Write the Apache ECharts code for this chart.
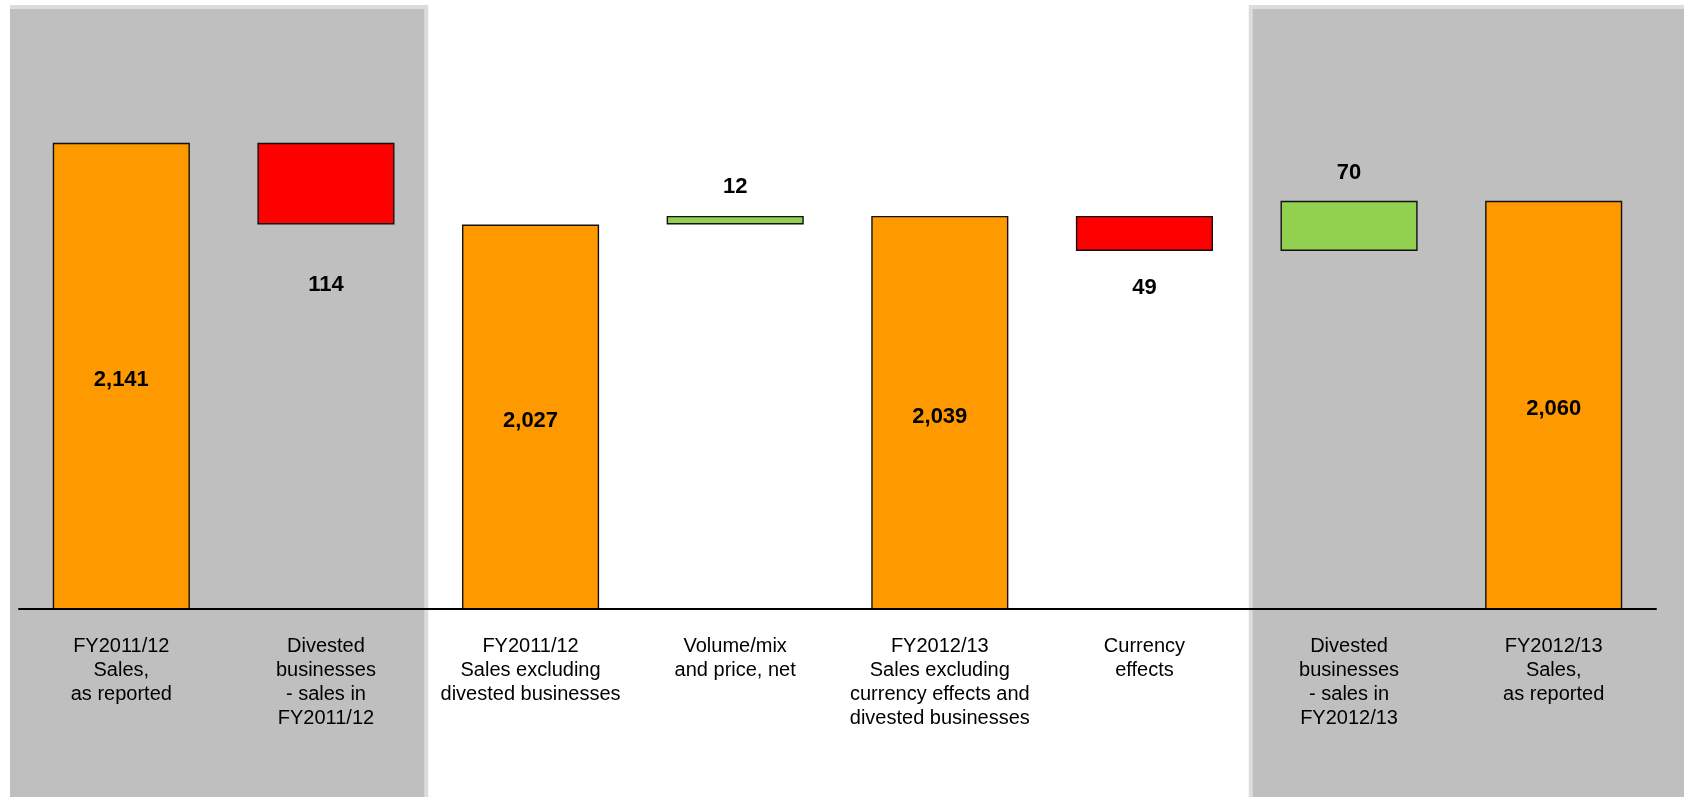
<!DOCTYPE html>
<html><head><meta charset="utf-8">
<script src="https://cdn.jsdelivr.net/npm/echarts@6/dist/echarts.min.js"></script>
<style>html,body{margin:0;padding:0;background:#fff}#c{width:1684px;height:797px}</style>
</head><body><div id="c"></div>
<script>
// ---- data ----
const categories = [
  'FY2011/12\nSales,\nas reported',
  'Divested\nbusinesses\n- sales in\nFY2011/12',
  'FY2011/12\nSales excluding\ndivested businesses',
  'Volume/mix\nand price, net',
  'FY2012/13\nSales excluding\ncurrency effects and\ndivested businesses',
  'Currency\neffects',
  'Divested\nbusinesses\n- sales in\nFY2012/13',
  'FY2012/13\nSales,\nas reported'
];
const stepValues = [2141, -114, 2027, 12, 2039, -49, 70, 2060];
const stepKinds = ['total', 'change', 'total', 'change', 'total', 'change', 'change', 'total'];
const axisMin = 1490;
const axisMax = 2300;

// ---- build waterfall from data ----
const FONT = "'Liberation Sans', Arial, sans-serif";
const COL_TOTAL = '#FF9900', COL_UP = '#92D050', COL_DOWN = '#FF0000';
const labelGap = {1: 49, 3: 18, 5: 26, 6: 17}; // layout tweak per change label
const baseData = [], barData = [];
let running = 0;
stepValues.forEach((v, i) => {
  const fmt = Math.abs(v).toLocaleString('en-US');
  if (stepKinds[i] === 'total') {
    running = v;
    baseData.push('-');
    barData.push({
      value: v,
      itemStyle: {color: COL_TOTAL},
      label: {show: true, position: 'inside', offset: [0, 4], formatter: fmt}
    });
  } else {
    const lo = v >= 0 ? running : running + v;
    running += v;
    baseData.push(lo);
    barData.push({
      value: Math.abs(v),
      itemStyle: {color: v >= 0 ? COL_UP : COL_DOWN},
      label: {show: true, position: v >= 0 ? 'top' : 'bottom', distance: labelGap[i] || 20, formatter: fmt}
    });
  }
});

const chart = echarts.init(document.getElementById('c'), null, {renderer: 'canvas'});
const option = {
  backgroundColor: '#fff',
  animation: false,
  grid: {left: 19, right: 28, top: 29, bottom: 188, containLabel: false},
  xAxis: {
    type: 'category',
    data: categories,
    axisLine: {show: true, onZero: false, lineStyle: {color: '#000', width: 2}},
    axisTick: {show: false},
    axisLabel: {interval: 0, margin: 25, color: '#000', fontSize: 20, lineHeight: 24, fontFamily: FONT, align: 'center'},
    z: 5
  },
  yAxis: {
    type: 'value', min: axisMin, max: axisMax, show: false,
    splitLine: {show: false}
  },
  series: [
    {
      type: 'bar', stack: 'wf', data: baseData, barCategoryGap: '33%',
      itemStyle: {color: 'rgba(0,0,0,0)', borderWidth: 0},
      silent: true, z: 2
    },
    {
      type: 'bar', stack: 'wf', data: barData, barCategoryGap: '33%',
      itemStyle: {borderColor: '#111', borderWidth: 1.4},
      label: {color: '#000', fontSize: 22, fontWeight: 'bold', fontFamily: FONT},
      z: 3
    }
  ]
};
chart.setOption(option);

// gray background panels aligned with category bands
const c0 = chart.convertToPixel({xAxisIndex: 0}, 0);
const c1 = chart.convertToPixel({xAxisIndex: 0}, 1);
const band = c1 - c0;
const edge = i => c0 + (i - 0.5) * band;
const W = 1684, H = 797;
const p1L = edge(0) - 9, p1R = edge(2);
const p2L = edge(6) + 2, p2R = W;
chart.setOption({
  graphic: [
    {type: 'rect', silent: true, z: -10, shape: {x: p1L, y: 5, width: p1R - p1L, height: H - 5}, style: {fill: '#DCDCDC'}},
    {type: 'rect', silent: true, z: -9, shape: {x: p1L, y: 9, width: p1R - p1L - 4, height: H - 9}, style: {fill: '#BFBFBF'}},
    {type: 'rect', silent: true, z: -10, shape: {x: p2L, y: 5, width: p2R - p2L, height: H - 5}, style: {fill: '#DCDCDC'}},
    {type: 'rect', silent: true, z: -9, shape: {x: p2L + 4, y: 9, width: p2R - p2L - 4, height: H - 9}, style: {fill: '#BFBFBF'}}
  ]
});
</script>
</body></html>
